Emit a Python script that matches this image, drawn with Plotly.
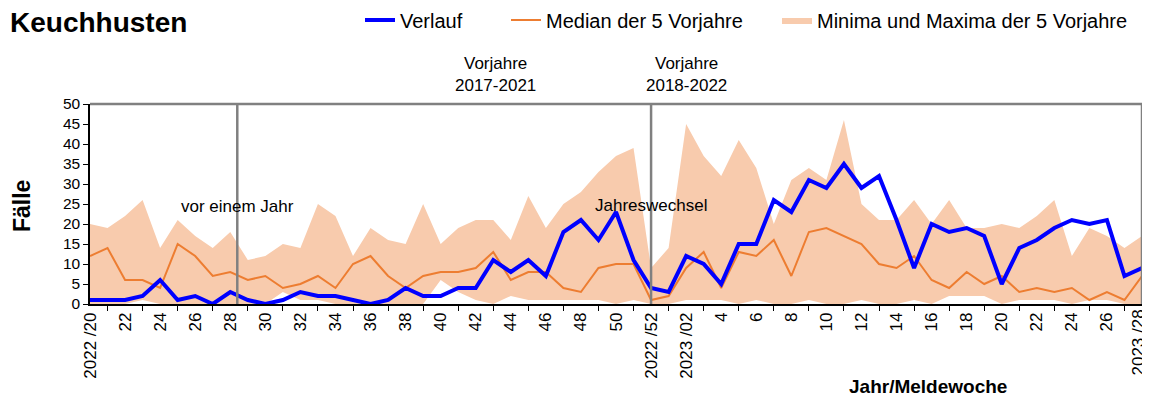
import plotly.graph_objects as go

# --- data ---
week_labels = (
    ["2022 /20", "21", "22", "23", "24", "25", "26", "27", "28", "29", "30", "31", "32", "33",
     "34", "35", "36", "37", "38", "39", "40", "41", "42", "43", "44", "45", "46", "47", "48",
     "49", "50", "51", "2022 /52",
     "2023 /01", "2023 /02", "3", "4", "5", "6", "7", "8", "9", "10", "11", "12", "13", "14",
     "15", "16", "17", "18", "19", "20", "21", "22", "23", "24", "25", "26", "27", "2023 /28"]
)

verlauf = [1, 1, 1, 2, 6, 1, 2, 0, 3, 1, 0, 1, 3, 2, 2, 1, 0, 1, 4, 2, 2, 4, 4, 11, 8, 11, 7,
           18, 21, 16, 23, 11, 4,
           3, 12, 10, 5, 15, 15, 26, 23, 31, 29, 35, 29, 32, 21, 9, 20, 18, 19, 17, 5, 14, 16,
           19, 21, 20, 21, 7, 9]

median5 = [12, 14, 6, 6, 4, 15, 12, 7, 8, 6, 7, 4, 5, 7, 4, 10, 12, 7, 4, 7, 8, 8, 9, 13, 6,
           8, 8, 4, 3, 9, 10, 10, 1,
           2, 9, 13, 4, 13, 12, 16, 7, 18, 19, 17, 15, 10, 9, 12, 6, 4, 8, 5, 7, 3, 4, 3, 4, 1,
           3, 1, 7]

max5 = [20, 19, 22, 26, 14, 21, 17, 14, 18, 11, 12, 15, 14, 25, 22, 12, 19, 16, 15, 25, 15,
        19, 21, 21, 16, 27, 19, 25, 28, 33, 37, 39, 9,
        14, 45, 37, 32, 41, 34, 20, 31, 34, 31, 46, 25, 21, 21, 26, 20, 26, 19, 19, 20, 19, 22,
        26, 12, 19, 17, 14, 17]

min5 = [0, 0, 0, 1, 0, 0, 0, 0, 0, 0, 0, 3, 1, 1, 0, 0, 0, 0, 0, 0, 6, 3, 1, 0, 2, 1, 1, 1,
        1, 1, 0, 1, 0,
        0, 1, 1, 1, 0, 1, 0, 0, 1, 0, 0, 1, 0, 0, 1, 0, 2, 2, 2, 0, 1, 1, 1, 0, 1, 1, 0, 0]

markers = [8.4, 32]  # "vor einem Jahr", "Jahreswechsel"

x = list(range(len(verlauf)))
last = x[-1]
major = [i for i in x if i % 2 == 0 and i != last]
minor = [i for i in x if i % 2 == 1] + [last]

FONT = "Liberation Sans, Arial, sans-serif"
BLUE = "#0000FF"
ORANGE = "#ED7D31"
PEACH = "#F8CBAD"
GRAY = "#808080"

# page has an 8px body margin: figure is sized/placed to compensate
W, H = 1142, 393
ML, MT = 82, 96
PW, PH = 1052, 200


def lx(page_x):
    return (page_x - 90) / PW


fig = go.Figure()
fig.add_trace(go.Scatter(x=x, y=min5, mode="lines", line=dict(width=0, color=PEACH),
                         showlegend=False, hoverinfo="skip"))
fig.add_trace(go.Scatter(x=x, y=max5, mode="lines", line=dict(width=0, color=PEACH),
                         fill="tonexty", fillcolor=PEACH, legend="legend3",
                         name="Minima und Maxima der 5 Vorjahre"))
fig.add_trace(go.Scatter(x=x, y=median5, mode="lines", line=dict(width=2, color=ORANGE),
                         name="Median der 5 Vorjahre", legend="legend2"))
fig.add_trace(go.Scatter(x=x, y=verlauf, mode="lines", line=dict(width=4, color=BLUE),
                         name="Verlauf", legend="legend"))

for m in markers:
    fig.add_shape(type="line", xref="x", yref="paper", x0=m, x1=m, y0=0, y1=1,
                  line=dict(color=GRAY, width=2.5))
# top & right frame
fig.add_shape(type="line", xref="paper", yref="paper", x0=0, x1=1, y0=1, y1=1,
              line=dict(color=GRAY, width=2.5))
fig.add_shape(type="line", xref="paper", yref="paper", x0=1, x1=1, y0=0, y1=1,
              line=dict(color=GRAY, width=2.5))

ann = dict(showarrow=False, font=dict(family=FONT, size=17, color="black"),
           xanchor="center", yanchor="middle")
fig.add_annotation(x=23.1, y=1.15, xref="x", yref="paper", text="Vorjahre<br>2017-2021", **ann)
fig.add_annotation(x=34.0, y=1.15, xref="x", yref="paper", text="Vorjahre<br>2018-2022", **ann)
fig.add_annotation(x=markers[0], y=24.5, xref="x", yref="y", text="vor einem Jahr", **ann)
fig.add_annotation(x=markers[1], y=24.7, xref="x", yref="y", text="Jahreswechsel", **ann)

# last week label (kept inside the page edge)
fig.add_annotation(x=last, y=0, xref="x", yref="paper", text=week_labels[last],
                   textangle=-90, showarrow=False, xanchor="right", yanchor="top",
                   xshift=7, yshift=-4, font=dict(family=FONT, size=17, color="black"))

fig.add_annotation(x=lx(22), y=0.49, xref="paper", yref="paper", text="<b>Fälle</b>",
                   textangle=-90, showarrow=False, xanchor="center", yanchor="middle",
                   font=dict(family=FONT, size=23, color="black"))
fig.add_annotation(x=lx(928), y=(304 - 386) / PH, xref="paper", yref="paper",
                   text="<b>Jahr/Meldewoche</b>", showarrow=False,
                   xanchor="center", yanchor="middle",
                   font=dict(family=FONT, size=19, color="black"))

leg = dict(orientation="h", y=(304 - 20) / PH, xanchor="left", yanchor="middle",
           font=dict(family=FONT, size=20, color="black"), bgcolor="rgba(0,0,0,0)")

fig.update_layout(
    width=W, height=H,
    margin=dict(l=ML, r=W - ML - PW, t=MT, b=H - MT - PH, autoexpand=False),
    paper_bgcolor="white", plot_bgcolor="white",
    font=dict(family=FONT, size=15, color="black"),
    title=dict(text="<b>Keuchhusten</b>", x=2 / W, xanchor="left", xref="container",
               y=1 - 14 / H, yanchor="middle", font=dict(family=FONT, size=28, color="black")),
    legend=dict(x=lx(360), **leg),
    legend2=dict(x=lx(506), **leg),
    legend3=dict(x=lx(777), **leg),
    showlegend=True,
)
fig.update_xaxes(range=[0, 60], tickmode="array", tickvals=major,
                 ticktext=[week_labels[i] for i in major], tickangle=-90,
                 ticks="", showgrid=False, zeroline=False, showline=True, linecolor="black",
                 linewidth=1.5, tickfont=dict(family=FONT, size=17),
                 minor=dict(tickmode="array", tickvals=minor, ticks="outside", ticklen=5,
                            tickcolor="black", tickwidth=1, showgrid=False))
fig.update_yaxes(range=[0, 50], dtick=5, ticks="outside", ticklen=5, tickcolor="black",
                 showgrid=False, zeroline=False, showline=True, linecolor="black",
                 linewidth=1.5, tickfont=dict(family=FONT, size=15.5))

fig.write_html("out.html")
